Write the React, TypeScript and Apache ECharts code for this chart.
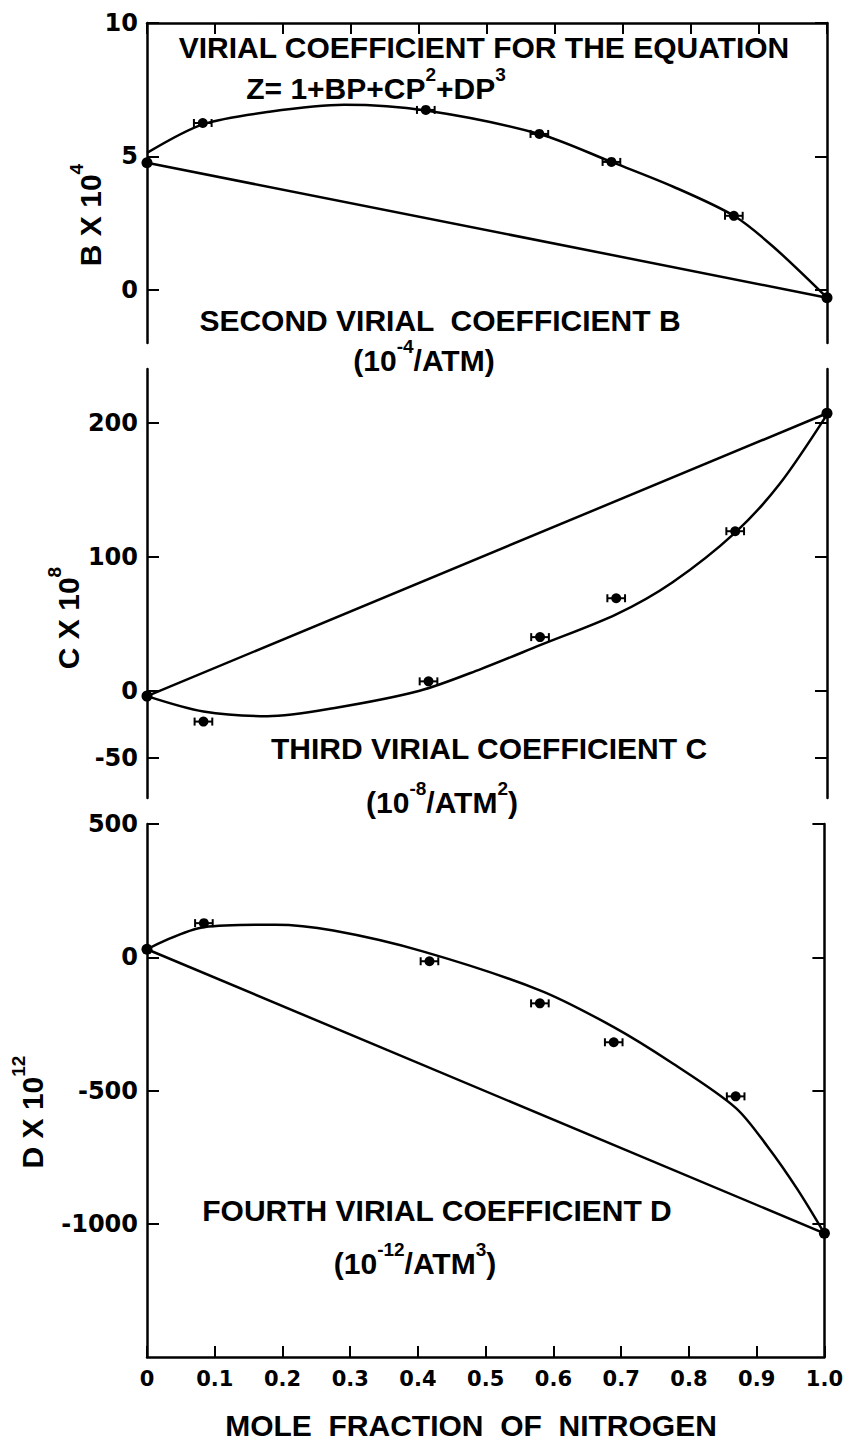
import React, { useEffect, useRef } from "react";
import * as echarts from "echarts";

// ---------- data ----------
const X_TICK_LABELS = ["0", "0.1", "0.2", "0.3", "0.4", "0.5", "0.6", "0.7", "0.8", "0.9", "1.0"];
const B_TICKS = [0, 5, 10];
const C_TICKS = [-50, 0, 100, 200];
const D_TICKS = [-1000, -500, 0, 500];

// end points (pure components) on the axes
const END_X = [0, 1.0];
const END_B = [4.76, -0.3];
const END_C = [-4, 207];
const END_D = [30, -1036];

// mixture points with horizontal error bars
const PT_X_B = [0.082, 0.41, 0.577, 0.683, 0.863];
const PT_B = [6.25, 6.74, 5.84, 4.79, 2.77];
const PT_X_C = [0.083, 0.414, 0.578, 0.69, 0.865];
const PT_C = [-23, 7, 40, 69, 119];
const PT_X_D = [0.084, 0.417, 0.58, 0.689, 0.869];
const PT_D = [128, -15, -173, -319, -522];
const X_ERR = [0.013, 0.013, 0.013, 0.013, 0.013];

// fitted curves
const CURVE_X_B = [0, 0.082, 0.18, 0.29, 0.41, 0.577, 0.683, 0.774, 0.863, 0.921, 1.0];
const CURVE_B = [5.13, 6.2, 6.67, 6.93, 6.72, 5.84, 4.79, 3.86, 2.77, 1.61, -0.3];
const CURVE_X_C = [0, 0.083, 0.177, 0.274, 0.401, 0.49, 0.578, 0.69, 0.773, 0.865, 0.93, 1.0];
const CURVE_C = [-4, -15.5, -19, -13, 0, 16, 34, 57, 81, 118, 154, 206];
const CURVE_X_D = [0, 0.084, 0.19, 0.275, 0.407, 0.58, 0.689, 0.774, 0.869, 0.916, 0.96, 1.0];
const CURVE_D = [30, 113, 122, 100, 22, -124, -262, -395, -565, -710, -870, -1036];

const BLACK = "#000";
const CAP_FONT = "Liberation Sans";
const TICK_FONT = "DejaVu Sans";

function pairs(xs: number[], ys: number[]) {
  return xs.map((x, i) => [x, ys[i]]);
}
function triples(xs: number[], ys: number[], es: number[]) {
  return xs.map((x, i) => [x, ys[i], es[i]]);
}

const lineStyle = { color: BLACK, width: 2.5 };

function xAxis(gridIndex: number, extra: any) {
  return {
    type: "value",
    gridIndex,
    min: 0,
    max: 1,
    interval: 0.1,
    splitLine: { show: false },
    axisLine: { show: true, onZero: false, lineStyle },
    axisTick: { show: true, inside: true, length: 11, lineStyle: { color: BLACK, width: 2 } },
    axisLabel: { show: false },
    ...extra,
  };
}

function yAxis(gridIndex: number, min: number, max: number, ticks: number[], side: string) {
  return {
    type: "value",
    gridIndex,
    min,
    max,
    position: side,
    splitLine: { show: false },
    axisLine: { show: true, onZero: false, lineStyle },
    axisTick: {
      show: true,
      inside: true,
      length: 12,
      customValues: ticks,
      lineStyle: { color: BLACK, width: 2 },
    },
    axisLabel:
      side === "left"
        ? {
            show: true,
            customValues: ticks,
            color: BLACK,
            fontFamily: TICK_FONT,
            fontWeight: "bold",
            fontSize: 24,
            margin: 9,
            formatter: (v: number) => String(v),
          }
        : { show: false },
  };
}

function panelSeries(
  xi: number,
  yi: number,
  curveX: number[],
  curveY: number[],
  endY: number[],
  ptX: number[],
  ptY: number[]
) {
  return [
    {
      type: "line",
      xAxisIndex: xi,
      yAxisIndex: yi,
      data: pairs(END_X, endY),
      symbol: "none",
      lineStyle: { color: BLACK, width: 2.5 },
      clip: false,
    },
    {
      type: "line",
      xAxisIndex: xi,
      yAxisIndex: yi,
      data: pairs(curveX, curveY),
      symbol: "none",
      smooth: 0.3,
      lineStyle: { color: BLACK, width: 2.5 },
      clip: false,
    },
    {
      type: "custom",
      xAxisIndex: xi,
      yAxisIndex: yi,
      data: triples(ptX, ptY, X_ERR),
      encode: { x: 0, y: 1 },
      renderItem: (params: any, api: any) => {
        const x = api.value(0);
        const y = api.value(1);
        const e = api.value(2);
        const a = api.coord([x - e, y]);
        const b = api.coord([x + e, y]);
        const h = 4;
        const st = { stroke: BLACK, lineWidth: 2 };
        return {
          type: "group",
          children: [
            { type: "line", shape: { x1: a[0], y1: a[1], x2: b[0], y2: b[1] }, style: st },
            { type: "line", shape: { x1: a[0], y1: a[1] - h, x2: a[0], y2: a[1] + h }, style: st },
            { type: "line", shape: { x1: b[0], y1: b[1] - h, x2: b[0], y2: b[1] + h }, style: st },
          ],
        };
      },
    },
    {
      type: "scatter",
      xAxisIndex: xi,
      yAxisIndex: yi,
      data: pairs(ptX, ptY),
      symbol: "circle",
      symbolSize: 10,
      itemStyle: { color: BLACK, opacity: 1 },
    },
    {
      type: "scatter",
      xAxisIndex: xi,
      yAxisIndex: yi,
      data: pairs(END_X, endY),
      symbol: "circle",
      symbolSize: 11,
      itemStyle: { color: BLACK, opacity: 1 },
      clip: false,
    },
  ];
}

const baseText = {
  fill: BLACK,
  fontFamily: CAP_FONT,
  fontWeight: "bold",
  fontSize: 30,
  align: "center",
  verticalAlign: "middle",
  textAlign: "center",
  textVerticalAlign: "middle",
};
const supRich = {
  sup: {
    fontFamily: CAP_FONT,
    fontWeight: "bold",
    fontSize: 19,
    fill: BLACK,
    verticalAlign: "top",
    padding: [0, 0, 28, 0],
  },
};

function caption(text: string, x: number, y: number, rotation = 0) {
  return {
    type: "text",
    x,
    y,
    rotation,
    z: 100,
    style: { ...baseText, text, rich: supRich },
  };
}

export default function App() {
  const ref = useRef<HTMLDivElement>(null);
  useEffect(() => {
    if (!ref.current) return;
    const chart = echarts.init(ref.current, undefined, { renderer: "svg" });
    const option: any = {
      animation: false,
      backgroundColor: "#fff",
      grid: [
        { left: 147, right: 19, top: 23, height: 320 },
        { left: 147, right: 19, top: 369, height: 429 },
        { left: 147, right: 19, top: 824, height: 533 },
      ],
      xAxis: [
        xAxis(0, { position: "top" }),
        xAxis(1, { show: false }),
        xAxis(2, {
          position: "bottom",
          axisLabel: {
            show: true,
            color: BLACK,
            fontFamily: TICK_FONT,
            fontWeight: "bold",
            fontSize: 21,
            margin: 11,
            formatter: (v: number) => X_TICK_LABELS[Math.round(v * 10)] ?? "",
          },
        }),
      ],
      yAxis: [
        yAxis(0, -2, 10, B_TICKS, "left"),
        yAxis(0, -2, 10, B_TICKS, "right"),
        yAxis(1, -80, 240, C_TICKS, "left"),
        yAxis(1, -80, 240, C_TICKS, "right"),
        yAxis(2, -1500, 500, D_TICKS, "left"),
        yAxis(2, -1500, 500, D_TICKS, "right"),
      ],
      series: [
        ...panelSeries(0, 0, CURVE_X_B, CURVE_B, END_B, PT_X_B, PT_B),
        ...panelSeries(1, 2, CURVE_X_C, CURVE_C, END_C, PT_X_C, PT_C),
        ...panelSeries(2, 4, CURVE_X_D, CURVE_D, END_D, PT_X_D, PT_D),
      ],
      graphic: [
        caption("VIRIAL COEFFICIENT FOR THE EQUATION", 484, 47),
        caption("Z= 1+BP+CP{sup|2}+DP{sup|3}", 376, 88),
        caption("SECOND VIRIAL  COEFFICIENT B", 440, 320),
        caption("(10{sup|-4}/ATM)", 424, 360),
        caption("THIRD VIRIAL COEFFICIENT C", 489, 748),
        caption("(10{sup|-8}/ATM{sup|2})", 442, 802),
        caption("FOURTH VIRIAL COEFFICIENT D", 437, 1210),
        caption("(10{sup|-12}/ATM{sup|3})", 415, 1263),
        caption("MOLE  FRACTION  OF  NITROGEN", 471, 1425),
        caption("B X 10{sup|4}", 90, 215, Math.PI / 2),
        caption("C X 10{sup|8}", 68, 618, Math.PI / 2),
        caption("D X 10{sup|12}", 32, 1112, Math.PI / 2),
      ],
    };
    chart.setOption(option);
    return () => chart.dispose();
  }, []);
  return (
    <div
      ref={ref}
      style={{ position: "fixed", left: 0, top: 0, width: 846, height: 1441, background: "#fff" }}
    />
  );
}
